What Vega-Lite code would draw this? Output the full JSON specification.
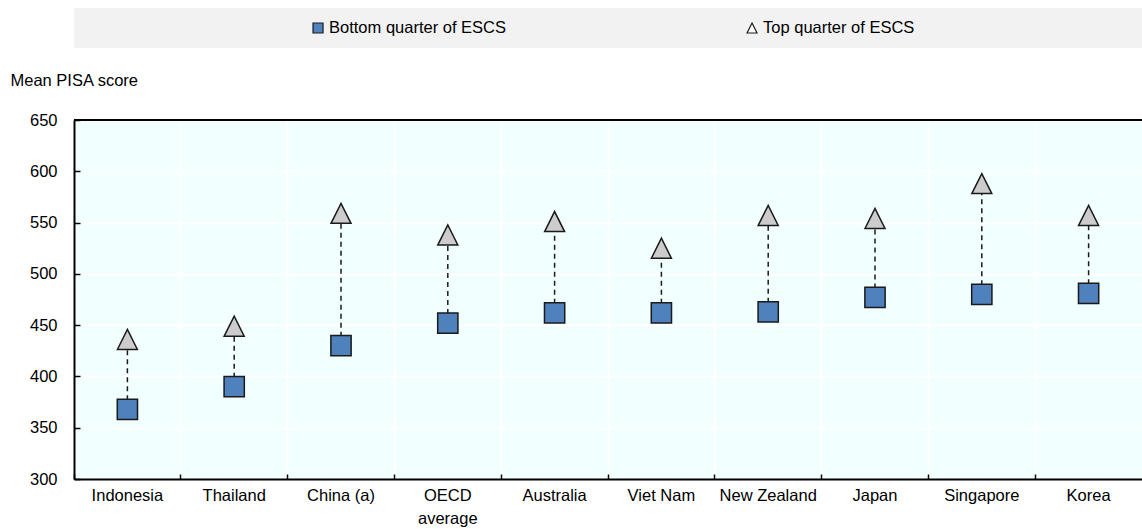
{
  "$schema": "https://vega.github.io/schema/vega-lite/v6.json",
  "padding": {"left": 10, "top": 8, "right": 0, "bottom": 0},
  "autosize": {"type": "pad"},
  "spacing": 72,
  "bounds": "flush",
  "config": {
    "font": "Liberation Sans Narrow, Liberation Sans, Arial, sans-serif",
    "view": {"stroke": null},
    "axisX": {"bandPosition": 0, "grid": true, "gridColor": "#FFFFFF", "gridWidth": 2, "domainColor": "#000000", "domainWidth": 2, "tickColor": "#000000", "tickSize": -5, "tickWidth": 1.5, "labelPadding": 13, "labelAngle": 0, "labelFontSize": 16.5, "labelColor": "#000000", "labelBaseline": "top", "labelLineHeight": 23.5},
    "axisY": {"grid": true, "gridColor": "#FFFFFF", "gridWidth": 2, "domainColor": "#000000", "domainWidth": 2, "tickColor": "#000000", "tickSize": -6, "tickWidth": 1.5, "labelPadding": 23, "labelFontSize": 16.5, "labelColor": "#000000", "titleAngle": 0, "titleAlign": "left", "titleBaseline": "alphabetic", "titleX": -64, "titleY": -35, "titleFontSize": 16.5, "titleFontWeight": "normal", "titleColor": "#000000", "tickCount": 8}
  },
  "resolve": {"scale": {"x": "independent", "y": "independent", "fill": "independent", "shape": "independent"}},
  "vconcat": [
    {
      "width": 1068,
      "height": 40,
      "view": {"fill": "#F2F2F2", "stroke": null},
      "data": {"values": [{"series": "Bottom quarter of ESCS"}, {"series": "Top quarter of ESCS"}]},
      "encoding": {
        "x": {"field": "series", "type": "nominal", "sort": null, "axis": null, "scale": {"type": "point", "padding": 0.7304, "align": 0.3849}}
      },
      "layer": [
        {
          "mark": {"type": "point", "filled": true, "opacity": 1, "stroke": "#1a1a1a", "strokeWidth": 1.2, "size": 100},
          "encoding": {
            "shape": {"field": "series", "type": "nominal", "legend": null, "scale": {"domain": ["Bottom quarter of ESCS", "Top quarter of ESCS"], "range": ["square", "M-1,1L0,-1L1,1Z"]}},
            "fill": {"field": "series", "type": "nominal", "legend": null, "scale": {"domain": ["Bottom quarter of ESCS", "Top quarter of ESCS"], "range": ["#4F81BD", "#FFFFFF"]}}
          }
        },
        {
          "mark": {"type": "text", "align": "left", "baseline": "middle", "dx": 11, "fontSize": 16.5, "color": "#000000"},
          "encoding": {"text": {"field": "series", "type": "nominal"}}
        }
      ]
    },
    {
      "width": 1068,
      "height": 359,
      "view": {"fill": "#F2FFFF", "stroke": null},
      "data": {
        "values": [
          {"country": "Indonesia", "bottom": 368, "top": 436},
          {"country": "Thailand", "bottom": 390, "top": 449},
          {"country": "China (a)", "bottom": 430, "top": 559},
          {"country": "OECD average", "bottom": 452, "top": 538},
          {"country": "Australia", "bottom": 462, "top": 551},
          {"country": "Viet Nam", "bottom": 462, "top": 525},
          {"country": "New Zealand", "bottom": 463, "top": 557},
          {"country": "Japan", "bottom": 477, "top": 554},
          {"country": "Singapore", "bottom": 480, "top": 588},
          {"country": "Korea", "bottom": 481, "top": 557}
        ]
      },
      "layer": [
        {
          "mark": {"type": "rule", "color": "#1a1a1a", "strokeWidth": 1.5, "strokeDash": [5, 4]},
          "encoding": {
            "x": {"field": "country", "type": "nominal", "sort": null, "title": null, "scale": {"paddingInner": 0, "paddingOuter": 0}, "axis": {"labelExpr": "datum.label == 'OECD average' ? ['OECD', 'average'] : datum.label"}},
            "y": {"field": "bottom", "type": "quantitative", "title": "Mean PISA score", "scale": {"domain": [300, 650], "nice": false, "zero": false}},
            "y2": {"field": "top"}
          }
        },
        {
          "mark": {"type": "point", "shape": "square", "filled": true, "opacity": 1, "fill": "#4F81BD", "stroke": "#1a1a1a", "strokeWidth": 1.5, "size": 410},
          "encoding": {
            "x": {"field": "country", "type": "nominal", "sort": null, "title": null},
            "y": {"field": "bottom", "type": "quantitative", "title": "Mean PISA score"}
          }
        },
        {
          "mark": {"type": "point", "shape": "M-1,1L0,-1L1,1Z", "filled": true, "opacity": 1, "fill": "#CCCCCC", "stroke": "#1a1a1a", "strokeWidth": 1.5, "size": 400},
          "encoding": {
            "x": {"field": "country", "type": "nominal", "sort": null, "title": null},
            "y": {"field": "top", "type": "quantitative", "title": "Mean PISA score"}
          }
        },
        {
          "mark": {"type": "rule", "color": "#000000", "strokeWidth": 2},
          "encoding": {
            "y": {"datum": 650, "type": "quantitative"}
          }
        }
      ]
    }
  ]
}
